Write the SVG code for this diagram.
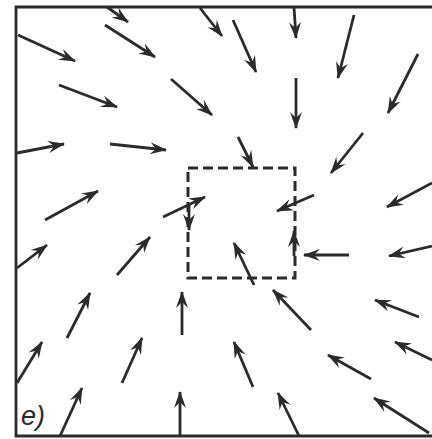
<svg xmlns="http://www.w3.org/2000/svg" width="432" height="439" viewBox="0 0 432 439">
<defs>
<style>
.a{stroke:#2b2b2b;stroke-width:2.8;fill:none;marker-end:url(#h)}
.fr{stroke:#2b2b2b;stroke-width:2.8;fill:none}
.sq{stroke:#2b2b2b;stroke-width:3;fill:none;stroke-dasharray:10 5}
.lb{font-family:"Liberation Sans",Arial,sans-serif;font-style:italic;font-size:27px;fill:#2b2b2b}
</style>
<marker id="h" viewBox="-17 -7 18 14" refX="0" refY="0" markerWidth="18" markerHeight="14" markerUnits="userSpaceOnUse" orient="auto">
<path d="M1,0 L-16,-6 L-10,0 L-16,6 Z" fill="#2b2b2b"/>
</marker>
</defs>
<rect width="432" height="439" fill="#fff"/>
<g id="frame"><path class="fr" d="M432,7 H16 V436 H432"/></g>
<g id="region"><rect class="sq" x="188" y="168" width="107" height="110"/></g>
<g id="label"><text class="lb" x="21" y="425">e)</text></g>
<g id="connectors">
<line class="a" x1="107" y1="7" x2="128" y2="22"/>
<line class="a" x1="105" y1="25" x2="155" y2="57"/>
<line class="a" x1="18" y1="35" x2="75" y2="61"/>
<line class="a" x1="200" y1="8" x2="222" y2="36"/>
<line class="a" x1="233" y1="20" x2="256" y2="72"/>
<line class="a" x1="294" y1="7" x2="296" y2="38"/>
<line class="a" x1="354" y1="15" x2="338" y2="78"/>
<line class="a" x1="418" y1="54" x2="388" y2="113"/>
<line class="a" x1="59" y1="85" x2="117" y2="107"/>
<line class="a" x1="171" y1="79" x2="212" y2="115"/>
<line class="a" x1="296" y1="78" x2="296" y2="128"/>
<line class="a" x1="17" y1="153" x2="64" y2="144"/>
<line class="a" x1="110" y1="144" x2="166" y2="150"/>
<line class="a" x1="238" y1="137" x2="253" y2="167"/>
<line class="a" x1="363" y1="133" x2="331" y2="173"/>
<line class="a" x1="432" y1="183" x2="387" y2="207"/>
<line class="a" x1="45" y1="220" x2="98" y2="191"/>
<line class="a" x1="163" y1="217" x2="205" y2="197"/>
<line class="a" x1="314" y1="195" x2="277" y2="211"/>
<line class="a" x1="189" y1="205" x2="189" y2="230"/>
<line class="a" x1="294" y1="256" x2="294" y2="231"/>
<line class="a" x1="349" y1="255" x2="304" y2="255"/>
<line class="a" x1="432" y1="246" x2="389" y2="256"/>
<line class="a" x1="17" y1="268" x2="47" y2="245"/>
<line class="a" x1="117" y1="275" x2="150" y2="237"/>
<line class="a" x1="254" y1="285" x2="234" y2="243"/>
<line class="a" x1="67" y1="338" x2="90" y2="293"/>
<line class="a" x1="182" y1="335" x2="182" y2="292"/>
<line class="a" x1="311" y1="330" x2="273" y2="290"/>
<line class="a" x1="419" y1="317" x2="375" y2="300"/>
<line class="a" x1="432" y1="360" x2="395" y2="342"/>
<line class="a" x1="17" y1="383" x2="42" y2="342"/>
<line class="a" x1="122" y1="383" x2="142" y2="338"/>
<line class="a" x1="253" y1="387" x2="234" y2="342"/>
<line class="a" x1="371" y1="379" x2="328" y2="355"/>
<line class="a" x1="60" y1="436" x2="82" y2="388"/>
<line class="a" x1="180" y1="436" x2="180" y2="392"/>
<line class="a" x1="299" y1="436" x2="278" y2="393"/>
<line class="a" x1="429" y1="433" x2="374" y2="398"/>
</g>
</svg>
